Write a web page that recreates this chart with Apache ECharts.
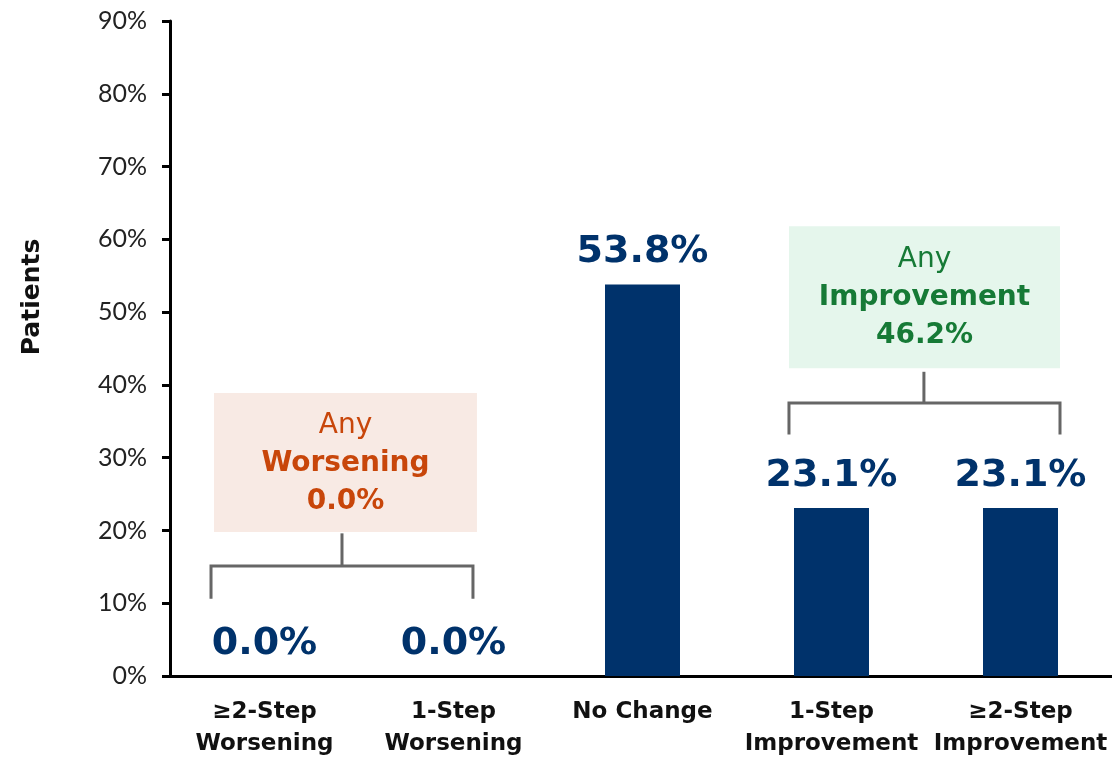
<!DOCTYPE html>
<html>
<head>
<meta charset="utf-8">
<script src="https://cdn.jsdelivr.net/npm/echarts@6/dist/echarts.min.js"></script>
<style>html,body{margin:0;padding:0;background:#fff}#c{width:1112px;height:759px}</style>
</head>
<body>
<div id="c"></div>
<script>
const categories = ['≥2-Step\nWorsening', '1-Step\nWorsening', 'No Change', '1-Step\nImprovement', '≥2-Step\nImprovement'];
const values = [0.0, 0.0, 53.8, 23.1, 23.1];
const yTicks = [0, 10, 20, 30, 40, 50, 60, 70, 80, 90];
const worseningIdx = [0, 1];
const improvementIdx = [3, 4];

const FONT = 'Lato';
const BFONT = 'DejaVu Sans';
const NAVY = '#00326B';

const chart = echarts.init(document.getElementById('c'), null, {renderer: 'canvas'});
chart.setOption({
  animation: false,
  textStyle: {fontFamily: FONT},
  grid: {left: 170, right: -3, top: 21, bottom: 83, containLabel: false, outerBoundsMode: 'none'},
  xAxis: [{
    type: 'category', data: categories,
    axisLine: {lineStyle: {color: '#000', width: 3}},
    axisTick: {show: false},
    axisLabel: {color: '#111', fontFamily: BFONT, fontWeight: 'bold', fontSize: 23, lineHeight: 32, margin: 20, interval: 0}
  }, {
    type: 'value', min: -0.5, max: 4.5, show: false
  }],
  yAxis: {
    type: 'value', min: yTicks[0], max: yTicks[yTicks.length - 1], interval: 10,
    axisLine: {show: true, onZero: false, lineStyle: {color: '#000', width: 3}},
    axisTick: {show: true, length: 8, lineStyle: {color: '#000', width: 3}},
    splitLine: {show: false},
    axisLabel: {color: '#222', fontFamily: FONT, fontSize: 25, margin: 23, formatter: v => v + '%'}
  },
  series: [{
    type: 'bar', data: values, barWidth: 75, xAxisIndex: 0,
    itemStyle: {color: NAVY},
    label: {show: true, position: 'top', distance: 13, color: NAVY, fontFamily: BFONT, fontWeight: 'bold', fontSize: 38,
      formatter: p => p.value.toFixed(1) + '%'}
  }]
});

function px(x, y) { return chart.convertToPixel({xAxisIndex: 1, yAxisIndex: 0}, [x, y]); }

function annotation(box, bracket, lines, color, bg) {
  const els = [];
  const p0 = px(box.x0, box.yt), p1 = px(box.x1, box.yb);
  els.push({type: 'rect', shape: {x: p0[0], y: p0[1], width: p1[0] - p0[0], height: p1[1] - p0[1]}, style: {fill: bg}, z: 5});
  els.push({type: 'text', x: (p0[0] + p1[0]) / 2, y: (p0[1] + p1[1]) / 2 + 1, z: 6,
    style: {text: '{a|' + lines[0] + '}\n{b|' + lines[1] + '}\n{b|' + lines[2] + '}', align: 'center', verticalAlign: 'middle',
      rich: {a: {fontFamily: BFONT, fontSize: 28, fill: color, lineHeight: 38, align: 'center'},
             b: {fontFamily: BFONT, fontSize: 28, fontWeight: 'bold', fill: color, lineHeight: 38, align: 'center'}}}});
  const s0 = px(bracket.xc, bracket.ys), s1 = px(bracket.xc, bracket.yh);
  const l0 = px(bracket.x0, bracket.yh), l1 = px(bracket.x1, bracket.yh);
  const d0 = px(bracket.x0, bracket.yl), d1 = px(bracket.x1, bracket.yl);
  const ls = {stroke: '#666', lineWidth: 3, fill: null};
  els.push({type: 'polyline', shape: {points: [s0, s1]}, style: ls, z: 5});
  els.push({type: 'polyline', shape: {points: [d0, l0, l1, d1]}, style: ls, z: 5});
  return els;
}

const worseTotal = worseningIdx.reduce((s, i) => s + values[i], 0);
const improveTotal = improvementIdx.reduce((s, i) => s + values[i], 0);

const graphics = [].concat(
  annotation({x0: -0.267, x1: 1.124, yb: 19.8, yt: 38.9}, {xc: 0.41, ys: 19.6, yh: 15.1, x0: -0.283, x1: 1.103, yl: 10.6},
    ['Any', 'Worsening', worseTotal.toFixed(1) + '%'], '#C8460A', '#F8EAE4'),
  annotation({x0: 2.775, x1: 4.209, yb: 42.3, yt: 61.8}, {xc: 3.489, ys: 41.8, yh: 37.5, x0: 2.775, x1: 4.209, yl: 33.2},
    ['Any', 'Improvement', improveTotal.toFixed(1) + '%'], '#167A36', '#E5F6EC'),
  [{type: 'text', x: 32, y: 297, rotation: Math.PI / 2, z: 6,
    style: {text: 'Patients', fontFamily: BFONT, fontWeight: 'bold', fontSize: 25, fill: '#111', align: 'center', verticalAlign: 'middle'}}]
);
chart.setOption({graphic: graphics});
</script>
</body>
</html>
